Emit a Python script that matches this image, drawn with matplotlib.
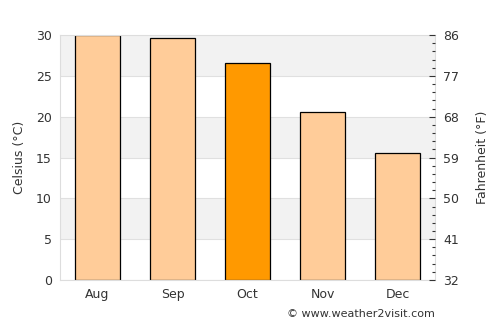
import matplotlib.pyplot as plt
import numpy as np

# Monthly average temperatures
months = ['Aug', 'Sep', 'Oct', 'Nov', 'Dec']
celsius = [30.0, 29.6, 26.6, 20.6, 15.5]
bar_colors = ['#ffcc99', '#ffcc99', '#ff9900', '#ffcc99', '#ffcc99']
f_ticks = [32, 41, 50, 59, 68, 77, 86]

text_color = '#333333'
fig = plt.figure(figsize=(5, 3.25), dpi=100)
ax = fig.add_axes([0.12, 0.1385, 0.75, 0.7535])

# alternating background bands
for lo in range(0, 30, 5):
    if (lo // 5) % 2 == 1:
        ax.axhspan(lo, lo + 5, color='#f2f2f2', zorder=0, lw=0)
    ax.axhline(lo, color='#e0e0e0', lw=0.8, zorder=0.5)

x = np.arange(len(months))
ax.bar(x, celsius, width=0.6, color=bar_colors, edgecolor='black', linewidth=0.9, zorder=2)

ax.set_xlim(-0.5, 4.5)
ax.set_ylim(0, 30)
ax.set_xticks(x)
ax.set_xticklabels(months)
ax.set_yticks(range(0, 31, 5))
ax.set_ylabel('Celsius (°C)', color=text_color, fontsize=9, labelpad=7)
ax.tick_params(axis='both', length=0, labelcolor=text_color, labelsize=9, pad=6)
for s in ax.spines.values():
    s.set_color('#dddddd')

# Fahrenheit axis on the right
ax2 = ax.twinx()
ax2.set_ylim(32, 86)
ax2.set_yticks(f_ticks)
ax2.set_yticks(np.arange(32, 86.1, 1.8), minor=True)
ax2.tick_params(axis='y', which='major', direction='in', length=4, width=0.8,
                color='#333333', labelcolor=text_color, labelsize=9, pad=6)
ax2.tick_params(axis='y', which='minor', direction='in', length=2.5, width=0.8,
                color='#333333')
ax2.set_ylabel('Fahrenheit (°F)', color=text_color, fontsize=9, labelpad=12)
for s in ax2.spines.values():
    s.set_visible(False)

fig.text(0.87, 0.035, '© www.weather2visit.com', ha='right', va='center',
         fontsize=8, color=text_color)

fig.savefig('out.png', dpi=100)
